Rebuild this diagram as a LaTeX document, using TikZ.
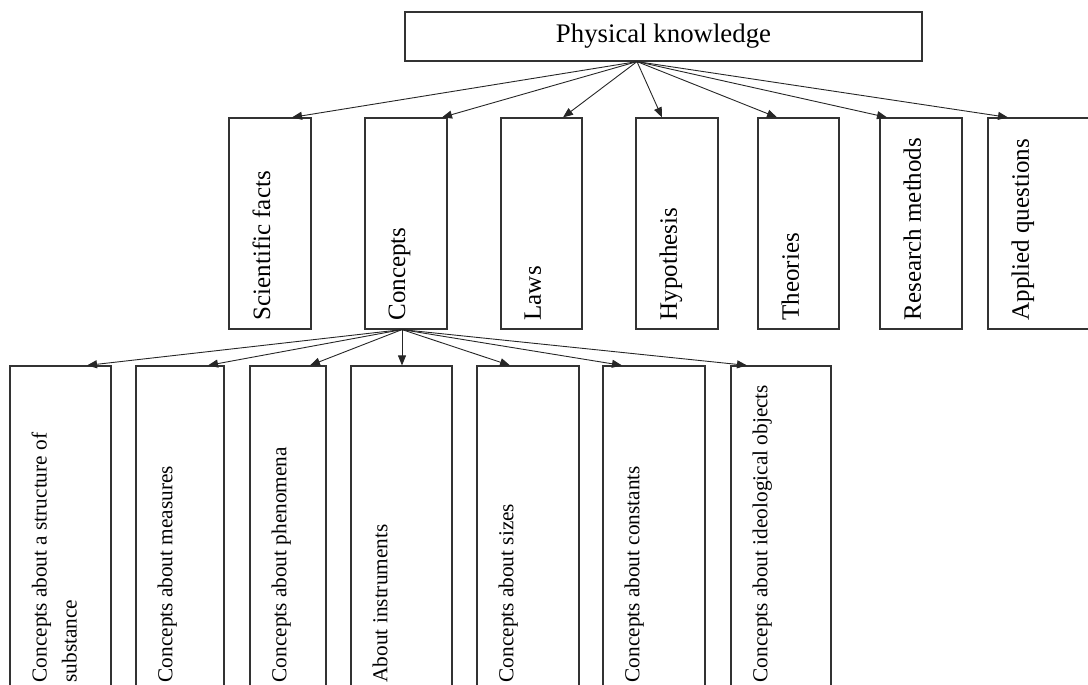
\documentclass[tikz,border=0pt]{standalone}
\usepackage{fontspec}
\setmainfont{Liberation Serif}
\usetikzlibrary{arrows.meta}
\begin{document}
\begin{tikzpicture}[x=1pt, y=-1pt,
  box/.style={draw=black!80, line width=1.2pt, inner sep=0pt},
  vtext/.style={rotate=90, anchor=north west, inner sep=0pt, align=left},
  arr/.style={draw=black!85, line width=0.9pt, -{Triangle[length=10pt,width=8pt]}}]
  \clip (0,0) rectangle (1088,685);

  \node[box, minimum width=517pt, minimum height=49pt, font=\fontsize{26.8}{30}\selectfont] (phys) at (663.5,36.5) {Physical knowledge};
  \coordinate (phys-out) at ([xshift=-26.5pt]phys.south);

  % first level
  \foreach \n/\cx/\w/\txt in {facts/270/82/Scientific facts, concepts/406/82/Concepts,
      laws/541.5/81/Laws, hypo/677/82/Hypothesis, theories/798.5/81/Theories,
      research/921/82/Research methods, applied/1043/110/Applied questions} {
    \node[box, minimum width=\w pt, minimum height=211pt] (\n) at (\cx,223.5) {};
    \node[vtext, font=\fontsize{25}{30}\selectfont] (\n-txt) at ([xshift=24pt,yshift=9pt]\n.south west) {\txt};
  }

  \foreach \n/\dx in {facts/22, concepts/36, laws/21.5, hypo/-15, theories/-21.5, research/-34, applied/-35} {
    \draw[arr] (phys-out) -- ([xshift=\dx pt]\n.north);
  }

  % second level, under concepts
  \coordinate (conc-out) at ([xshift=-4pt]concepts.south);
  \foreach \n/\cx/\w/\txt in {struct/60.5/101/{Concepts about a structure of\\substance},
      measures/180/88/Concepts about measures, phenom/288/76/Concepts about phenomena,
      instr/401.5/101/About instruments, sizes/528/102/Concepts about sizes,
      consts/654/102/Concepts about constants, ideol/781/100/Concepts about ideological objects} {
    \node[box, minimum width=\w pt, minimum height=334pt] (\n) at (\cx,533) {};
    \node[vtext, font=\fontsize{21.3}{30}\selectfont] (\n-txt) at ([xshift=22pt,yshift=18pt]\n.south west) {\txt};
  }

  \foreach \n/\dx in {struct/26.5, measures/28, phenom/22, instr/0.5, sizes/-18, consts/-32, ideol/-34} {
    \draw[arr] (conc-out) -- ([xshift=\dx pt]\n.north);
  }
\end{tikzpicture}
\end{document}
